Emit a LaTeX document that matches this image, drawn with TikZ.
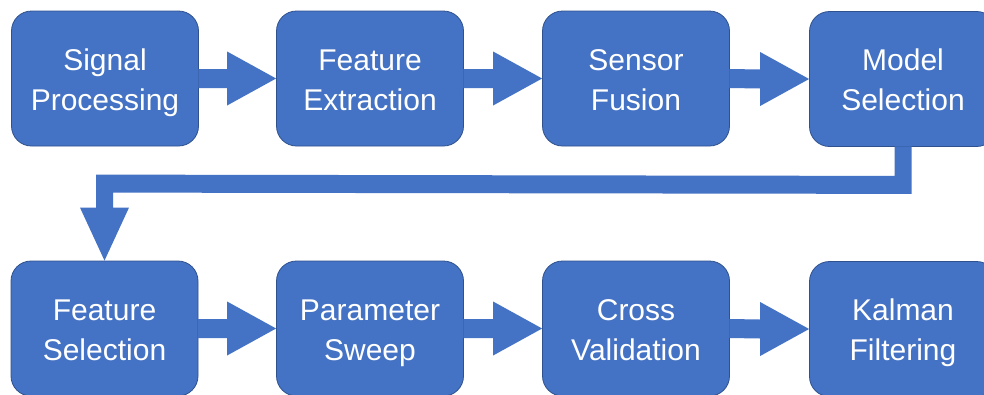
\documentclass[tikz,border=0pt]{standalone}
\usepackage{fontspec}
\setmainfont{Liberation Sans}
\usetikzlibrary{calc}
\definecolor{boxblue}{HTML}{4472C4}
\definecolor{edgeblue}{HTML}{2F528F}
\newcommand\ls{\rule[-8pt]{0pt}{39pt}}
\newcommand\flowarrow[2]{%
  \fill[flow] ($(#1.east)+(-0.5,-9.5)$) -- ($(#2.west)+(-49,-9.5)$) -- ($(#2.west)+(-49,-27)$) -- (#2.west)
    -- ($(#2.west)+(-49,27)$) -- ($(#2.west)+(-49,9.5)$) -- ($(#1.east)+(-0.5,9.5)$) -- cycle;}
\begin{document}
\begin{tikzpicture}[x=1pt,y=-1pt,
  stepbox/.style={draw=edgeblue, line width=0.8pt, fill=boxblue, rounded corners=20pt,
    minimum width=187pt, minimum height=135pt, text=white, align=center,
    font=\fontsize{30}{40}\selectfont, inner sep=0pt},
  flow/.style={fill=boxblue, draw=none}]
\clip (0,0) rectangle (984,394);
\fill[white] (0,0) rectangle (984,394);
\node[stepbox] (s1) at (105,78.5) {\ls Signal\\\ls Processing};
\node[stepbox] (s2) at (370,78.5) {\ls Feature\\\ls Extraction};
\node[stepbox] (s3) at (636,78.5) {\ls Sensor\\\ls Fusion};
\node[stepbox] (s4) at (903,79) {\ls Model\\\ls Selection};
\node[stepbox] (s5) at (104.5,328.5) {\ls Feature\\\ls Selection};
\node[stepbox] (s6) at (370,328.5) {\ls Parameter\\\ls Sweep};
\node[stepbox] (s7) at (636,328.5) {\ls Cross\\\ls Validation};
\node[stepbox] (s8) at (903,329) {\ls Kalman\\\ls Filtering};
\flowarrow{s1}{s2}
\flowarrow{s2}{s3}
\flowarrow{s3}{s4}
\flowarrow{s5}{s6}
\flowarrow{s6}{s7}
\flowarrow{s7}{s8}
\fill[flow] ($(s4.south)+(-8.5,-0.5)$) -- ($(s4.south)+(8.5,-0.5)$) -- ($(s4.south)+(8.5,47)$)
  -- ($(s5.north)+(8.5,-68)$) -- ($(s5.north)+(8.5,-53)$) -- ($(s5.north)+(24.5,-53)$)
  -- (s5.north) -- ($(s5.north)+(-24.5,-53)$) -- ($(s5.north)+(-8.5,-53)$)
  -- ($(s5.north)+(-8.5,-86)$) -- ($(s4.south)+(-8.5,29)$) -- cycle;
\end{tikzpicture}
\end{document}
